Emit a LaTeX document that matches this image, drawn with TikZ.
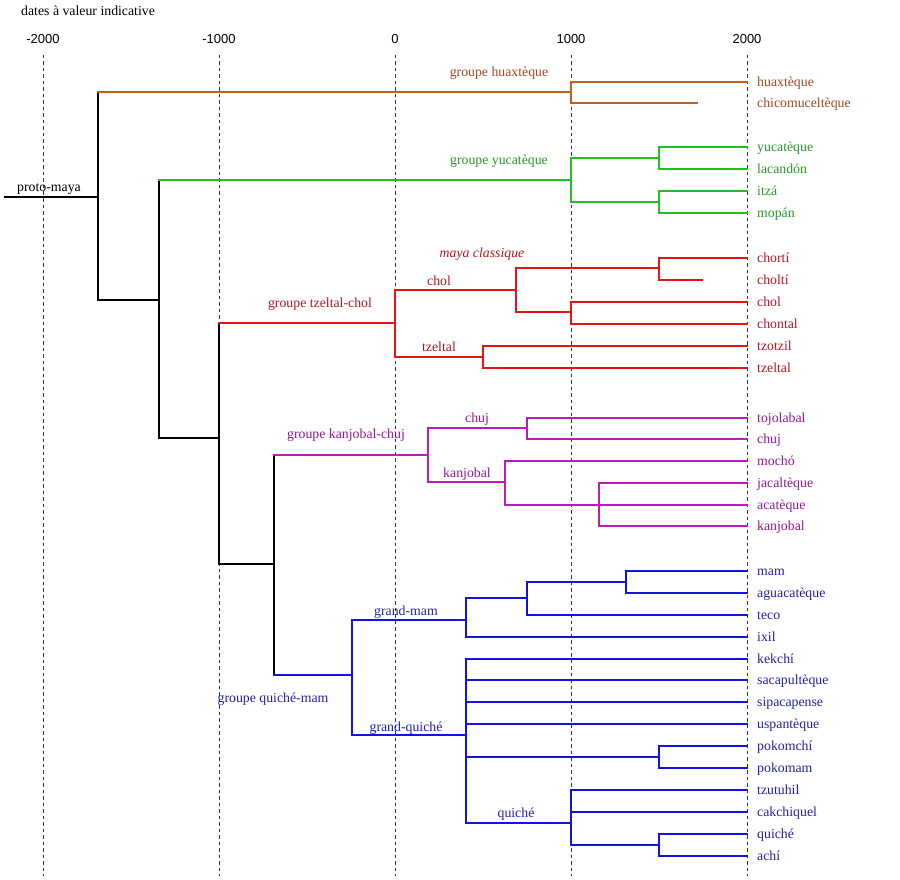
\documentclass[tikz,border=0pt]{standalone}
\usepackage{fontspec}
\setmainfont{Liberation Serif}
\newfontfamily\axisfont{Liberation Sans}
\usepackage{tikz}
\usetikzlibrary{positioning,calc}
\definecolor{hxLine}{RGB}{192,96,32}
\definecolor{hxText}{RGB}{160,72,32}
\definecolor{ycLine}{RGB}{32,192,32}
\definecolor{ycText}{RGB}{40,150,40}
\definecolor{tcLine}{RGB}{228,20,20}
\definecolor{tcText}{RGB}{180,22,32}
\definecolor{kcLine}{RGB}{192,24,192}
\definecolor{kcText}{RGB}{150,20,150}
\definecolor{qmLine}{RGB}{20,20,224}
\definecolor{qmText}{RGB}{32,32,165}
\newcommand{\lblsize}{\fontsize{13.8}{16}\selectfont}

\begin{document}
\begin{tikzpicture}[x=1pt,y=-1pt,
  font=\lblsize,
  br/.style={line width=1.7pt,line cap=rect},
  blk/.style={br,draw=black},
  hx/.style={br,draw=hxLine},
  yc/.style={br,draw=ycLine},
  tc/.style={br,draw=tcLine},
  kc/.style={br,draw=kcLine},
  qm/.style={br,draw=qmLine},
  dategrid/.style={dash pattern=on 3.5pt off 3pt,line width=1pt,draw=black!80},
  yr/.style={anchor=base,inner sep=0pt,font=\axisfont\fontsize{13}{15}\selectfont},
  lang/.style={anchor=base west,inner sep=0pt},
  grp/.style={anchor=base,inner sep=0pt}]
\useasboundingbox (0,0) rectangle (900,880);
% title and date axis
\node[anchor=base west,inner sep=0pt] (titre) at (21,16) {dates à valeur indicative};
\foreach \an/\x in {-2000/43,-1000/219,0/395,1000/571,2000/747} {
  \node[yr] (an\x) at (\x,44) {\an};
  \coordinate (haut\x) at (\x,55);
  \coordinate (bas\x) at (\x,876);
  \draw[dategrid] (haut\x) -- (bas\x);
}
% leaves
\foreach \n/\y/\e/\t in {huaxt/82/747/huaxtèque,chicom/103/697/chicomuceltèque} {
  \coordinate (\n) at (\e,\y);
  \node[lang,text=hxText] (\n-l) at (757,\y+4.5) {\t};
}
\foreach \n/\y/\e/\t in {yucat/147/747/yucatèque,lacan/169/747/lacandón,itza/191/747/itzá,mopan/213/747/mopán} {
  \coordinate (\n) at (\e,\y);
  \node[lang,text=ycText] (\n-l) at (757,\y+4.5) {\t};
}
\foreach \n/\y/\e/\t in {chorti/258/747/chortí,cholti/280/702/choltí,chol/302/747/chol,chont/324/747/chontal,tzotz/346/747/tzotzil,tzelt/368/747/tzeltal} {
  \coordinate (\n) at (\e,\y);
  \node[lang,text=tcText] (\n-l) at (757,\y+4.5) {\t};
}
\foreach \n/\y/\e/\t in {tojol/418/747/tojolabal,chuj/439/747/chuj,mocho/461/747/mochó,jacal/483/747/jacaltèque,acat/505/747/acatèque,kanjo/526/747/kanjobal} {
  \coordinate (\n) at (\e,\y);
  \node[lang,text=kcText] (\n-l) at (757,\y+4.5) {\t};
}
\foreach \n/\y/\e/\t in {mam/571/747/mam,aguac/593/747/aguacatèque,teco/615/747/teco,ixil/637/747/ixil,kekchi/659/747/kekchí,sacap/680/747/sacapultèque,sipac/702/747/sipacapense,uspan/724/747/uspantèque,pokomchi/746/747/pokomchí,pokomam/768/747/pokomam,tzutu/790/747/tzutuhil,cakch/812/747/cakchiquel,quiche/834/747/quiché,achi/856/747/achí} {
  \coordinate (\n) at (\e,\y);
  \node[lang,text=qmText] (\n-l) at (757,\y+4.5) {\t};
}
% branch points
\coordinate (racine) at (5,197);
\coordinate (pmaya) at (98,197);
\coordinate (nhx) at (571,92);
\coordinate (n1) at (159,300);
\coordinate (nyc) at (571,180);
\coordinate (nyc1) at (659,158);
\coordinate (nyc2) at (659,202);
\coordinate (n2) at (219,438);
\coordinate (ntc) at (395,323);
\coordinate (nchol) at (516,290);
\coordinate (nclass) at (659,268);
\coordinate (nchol2) at (571,312);
\coordinate (ntz) at (483,357);
\coordinate (n3) at (274,564);
\coordinate (nkc) at (428,455);
\coordinate (nchuj) at (527,428);
\coordinate (nkj) at (505,482);
\coordinate (njac) at (599,505);
\coordinate (nqm) at (352,675);
\coordinate (ngm) at (466,620);
\coordinate (ngm1) at (527,598);
\coordinate (nmam) at (626,582);
\coordinate (ngq) at (466,735);
\coordinate (npok) at (659,757);
\coordinate (nqui) at (571,823);
\coordinate (nqui2) at (659,845);
% black trunk
\draw[blk] (racine) -- (pmaya);
\draw[blk] (pmaya |- nhx) -- (pmaya |- n1) -- (n1);
\draw[blk] (n1 |- nyc) -- (n1 |- n2) -- (n2);
\draw[blk] (n2 |- ntc) -- (n2 |- n3) -- (n3);
\draw[blk] (n3 |- nkc) -- (n3 |- nqm);
\draw[hx] (pmaya |- nhx) -- (nhx);
\draw[yc] (n1 |- nyc) -- (nyc);
\draw[tc] (n2 |- ntc) -- (ntc);
\draw[kc] (n3 |- nkc) -- (nkc);
\draw[qm] (n3 |- nqm) -- (nqm);
% groups
\foreach \a/\b in {nhx/huaxt,nhx/chicom} \draw[hx] (\a) |- (\b);
\foreach \a/\b in {nyc/nyc1,nyc/nyc2,nyc1/yucat,nyc1/lacan,nyc2/itza,nyc2/mopan} \draw[yc] (\a) |- (\b);
\foreach \a/\b in {ntc/nchol,ntc/ntz,nchol/nclass,nchol/nchol2,nclass/chorti,nclass/cholti,nchol2/chol,nchol2/chont,ntz/tzotz,ntz/tzelt} \draw[tc] (\a) |- (\b);
\foreach \a/\b in {nkc/nchuj,nkc/nkj,nchuj/tojol,nchuj/chuj,nkj/mocho,nkj/njac,njac/jacal,njac/acat,njac/kanjo} \draw[kc] (\a) |- (\b);
\foreach \a/\b in {nqm/ngm,nqm/ngq,ngm/ngm1,ngm/ixil,ngm1/nmam,ngm1/teco,nmam/mam,nmam/aguac,ngq/kekchi,ngq/sacap,ngq/sipac,ngq/uspan,ngq/npok,ngq/nqui,npok/pokomchi,npok/pokomam,nqui/tzutu,nqui/cakch,nqui/nqui2,nqui2/quiche,nqui2/achi} \draw[qm] (\a) |- (\b);
% group labels
\node[grp] (l-proto) at (49,191.5) {proto-maya};
\node[grp,text=hxText] (l-huax) at (499,76.5) {groupe huaxtèque};
\node[grp,text=ycText] (l-yuc) at (499,164.5) {groupe yucatèque};
\node[grp,text=tcText] (l-tc) at (320,307) {groupe tzeltal-chol};
\node[grp,text=tcText,font=\lblsize\itshape] (l-class) at (482,257.5) {maya classique};
\node[grp,text=tcText] (l-chol) at (439,285.5) {chol};
\node[grp,text=tcText] (l-tz) at (439,351.5) {tzeltal};
\node[grp,text=kcText] (l-kc) at (346,438.5) {groupe kanjobal-chuj};
\node[grp,text=kcText] (l-chuj) at (477,422.5) {chuj};
\node[grp,text=kcText] (l-kj) at (467,477) {kanjobal};
\node[grp,text=qmText] (l-gm) at (406,615.5) {grand-mam};
\node[grp,text=qmText] (l-qm) at (273,702.5) {groupe quiché-mam};
\node[grp,text=qmText] (l-gq) at (406,731) {grand-quiché};
\node[grp,text=qmText] (l-qui) at (516,817.5) {quiché};
\end{tikzpicture}
\end{document}
